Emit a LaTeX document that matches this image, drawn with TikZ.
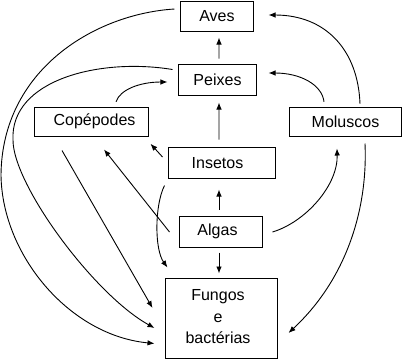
\documentclass[tikz,border=0pt]{standalone}
\usepackage{fontspec}
\setmainfont{Liberation Sans}
\usetikzlibrary{arrows.meta}
\begin{document}
\begin{tikzpicture}[x=1bp,y=-1bp,
  box/.style={draw, line width=1bp, inner sep=0pt, font=\fontsize{16bp}{21.5bp}\selectfont},
  arr/.style={line width=0.9bp, -{Latex[length=7bp,width=5.5bp]}}]
\useasboundingbox (0,0) rectangle (402,359);
% boxes
\node[box, minimum width=72bp, minimum height=30bp] (Aves) at (217,16) {Aves};
\node[box, minimum width=77bp, minimum height=31bp] (Peixes) at (217.5,80) {Peixes};
\node[box, minimum width=113bp, minimum height=29bp] (Cope) at (91.5,121.75) {Copépodes\hspace*{-6bp}};
\node[box, minimum width=111bp, minimum height=29bp] (Mol) at (345.5,121.75) {Moluscos};
\node[box, minimum width=106bp, minimum height=31bp] (Ins) at (222,163) {Insetos\hspace*{9bp}};
\node[box, minimum width=82bp, minimum height=31bp] (Alg) at (221,231.5) {Algas\hspace*{7bp}};
\node[box, minimum width=111bp, minimum height=80bp] (Fun) at (221.5,318) {\begin{tabular}{@{}c@{}}Fungos\\e\\bactérias\end{tabular}\hspace*{7bp}};
% straight arrows
\draw[arr] ([shift={(1.5,-5.5)}]Peixes.north) -- ([shift={(2,6)}]Aves.south);
\draw[arr] ([shift={(-3,-7.5)}]Ins.north) -- ([shift={(1.5,6.5)}]Peixes.south);
\draw[arr] ([shift={(-2,-6)}]Alg.north) -- ([shift={(-3,10.5)}]Ins.south);
\draw[arr] ([shift={(-2,5)}]Alg.south) -- ([shift={(-2.5,-4)}]Fun.north);
\draw[arr] ([shift={(-6,-6)}]Ins.west) -- ([shift={(2,7)}]Cope.south east);
\draw[arr] ([shift={(-10,0.5)}]Alg.west) -- ([shift={(12.5,12.75)}]Cope.south);
\draw[arr] ([shift={(-29.5,13.75)}]Cope.south) -- ([shift={(-13,-10)}]Fun.west);
% curved arrows
\draw[arr] ([shift={(24.5,-5)}]Cope.north) .. controls +(4,-12) and +(-28,0) .. ([shift={(-11,2)}]Peixes.west);
\draw[arr] ([shift={(-21.5,-5)}]Mol.north) .. controls +(-2,-17) and +(32,0) .. ([shift={(12,-7)}]Peixes.east);
\draw[arr] ([shift={(14.5,-3)}]Mol.north) .. controls +(-2,-54) and +(57,0) .. ([shift={(15,-1)}]Aves.east);
\draw[arr] ([shift={(10,0.5)}]Alg.east) .. controls +(33,-10) and +(1,37) .. ([shift={(-8.5,11.75)}]Mol.south);
\draw[arr] ([shift={(-4,6.5)}]Ins.south west) .. controls +(-10,20) and +(-13,-18) .. ([shift={(2,-10)}]Fun.north west);
\coordinate (wpP) at (13,140);
\coordinate (wpA) at (1,175);
\draw[arr] ([shift={(-6,5.5)}]Peixes.north west) .. controls +(-73,-12) and +(-3,-60) .. (wpP)
  .. controls +(0,45) and +(-60,-33) .. ([shift={(-11,10)}]Fun.west);
\draw[arr] ([shift={(-6,-7)}]Aves.west) .. controls +(-80,5) and +(1,-105) .. (wpA)
  .. controls +(1,80) and +(-85,-8) .. ([shift={(-11,-15)}]Fun.south west);
\draw[arr] ([shift={(19.5,6.75)}]Mol.south) .. controls +(3,67) and +(57,-53) .. ([shift={(11,15)}]Fun.east);
\end{tikzpicture}
\end{document}
